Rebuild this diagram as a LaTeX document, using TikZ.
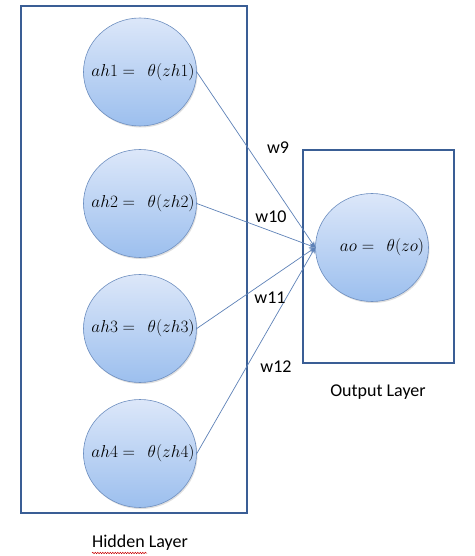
\documentclass[tikz,border=0pt]{standalone}
\usepackage{fontspec}
\setmainfont{Carlito}
\usetikzlibrary{shapes.geometric,shadows,arrows.meta,decorations.pathmorphing}
\definecolor{boxblue}{HTML}{3A5E95}
\definecolor{edgeblue}{HTML}{6E8FC0}
\definecolor{linkblue}{HTML}{5E82B8}
\definecolor{topfill}{HTML}{DCE7F9}
\definecolor{botfill}{HTML}{9CBFEE}
\tikzset{
  layerbox/.style={draw=boxblue, line width=2.2pt},
  neuron/.style={ellipse, draw=edgeblue, line width=0.6pt, top color=topfill, bottom color=botfill,
     minimum width=113pt, minimum height=108pt, inner sep=0pt,
     drop shadow={opacity=0.25, shadow xshift=1pt, shadow yshift=-1.5pt}},
  mtext/.style={font=\fontsize{17}{19}\selectfont, inner sep=0pt},
  lbl/.style={font=\fontsize{18}{20}\selectfont, inner sep=0pt},
  link/.style={draw=linkblue, line width=0.7pt, -{Stealth[length=6pt,width=5pt]}}
}
\begin{document}
\begin{tikzpicture}[x=1pt,y=-1pt]
\useasboundingbox (0,0) rectangle (474,556);
\fill[white] (0,0) rectangle (474,556);
\draw[layerbox] (21,6) rectangle (247,513);
\draw[layerbox] (303,150) rectangle (454,363);
\node[neuron] (h1) at (140,72) {};
\node[neuron] (h2) at (140,203.5) {};
\node[neuron] (h3) at (140,328.5) {};
\node[neuron] (h4) at (140,453.5) {};
\node[neuron] (o) at (372,247.5) {};
\node[mtext] (t1) at (143,72) {$ah1 =\ \ \theta(zh1)$};
\node[mtext] (t2) at (143,203.5) {$ah2 =\ \ \theta(zh2)$};
\node[mtext] (t3) at (143,328.5) {$ah3 =\ \ \theta(zh3)$};
\node[mtext] (t4) at (143,453.5) {$ah4 =\ \ \theta(zh4)$};
\node[mtext] (to) at (382,247.5) {$ao =\ \ \theta(zo)$};
\draw[link] (h1.east) -- (o.west);
\draw[link] (h2.east) -- (o.west);
\draw[link] (h3.east) -- (o.west);
\draw[link] (h4.east) -- (o.west);
\node[lbl] (w9) at (278,148) {w9};
\node[lbl] (w10) at (271,217) {w10};
\node[lbl] (w11) at (270,298) {w11};
\node[lbl] (w12) at (276,367) {w12};
\node[lbl] (ol) at (378,392) {Output Layer};
\node[lbl] (hl) at (140,543) {Hidden Layer};
\draw[red!80!black, line width=0.5pt, decorate, decoration={snake, amplitude=0.7pt, segment length=2.5pt}] (92,553) -- (147,553);
\end{tikzpicture}
\end{document}
